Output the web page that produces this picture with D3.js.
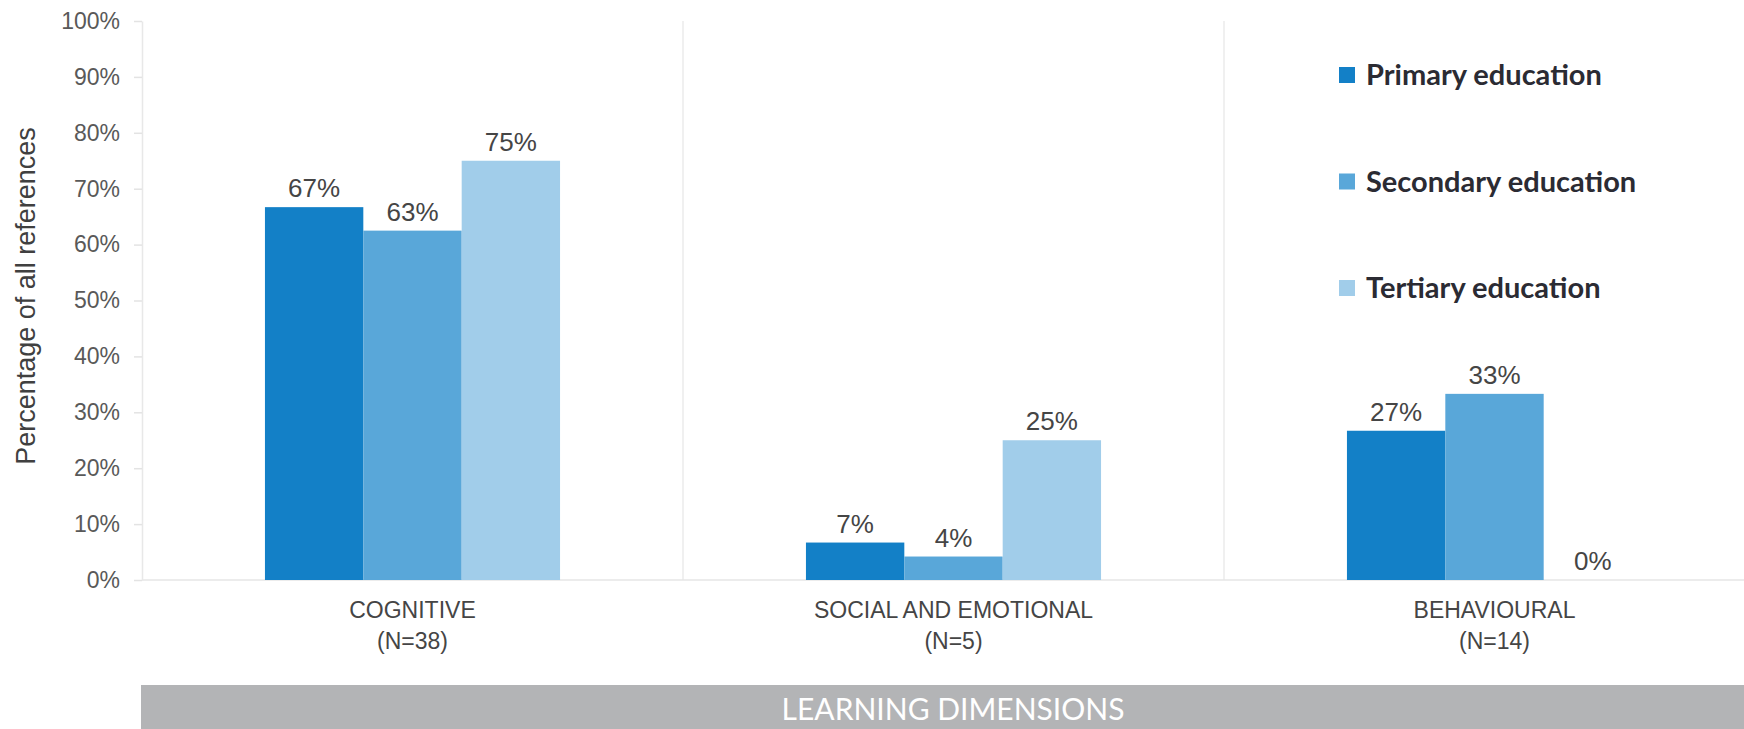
<!DOCTYPE html>
<html>
<head>
<meta charset="utf-8">
<script src="https://cdn.jsdelivr.net/npm/d3@7"></script>
<style>
  body { margin: 0; background: #fff; }
</style>
</head>
<body>
<svg></svg>
<script>
const categories = ["COGNITIVE", "SOCIAL AND EMOTIONAL", "BEHAVIOURAL"];
const categoryN = ["(N=38)", "(N=5)", "(N=14)"];
const seriesNames = ["Primary education", "Secondary education", "Tertiary education"];
const primaryValues = [66.7, 6.7, 26.7];
const secondaryValues = [62.5, 4.2, 33.3];
const tertiaryValues = [75, 25, 0];
const yTicks = [0, 10, 20, 30, 40, 50, 60, 70, 80, 90, 100];
const colors = ["#1380c7", "#59a7d9", "#a1cdea"];

const width = 1744;
const height = 729;

const series = [primaryValues, secondaryValues, tertiaryValues];
const data = categories.map((c, i) => ({
  category: c,
  n: categoryN[i],
  values: seriesNames.map((s, j) => ({ series: s, value: series[j][i] })),
}));

const svg = d3.select("svg").attr("width", width).attr("height", height);

const x0 = d3.scaleBand().domain(categories).range([142, 1765]);
const x1 = d3
  .scaleBand()
  .domain(seriesNames)
  .range([0, x0.bandwidth()])
  .paddingOuter(1.25);
const y = d3.scaleLinear().domain([0, 100]).range([580, 21]);
const color = d3.scaleOrdinal().domain(seriesNames).range(colors);

// separators between categories
svg
  .selectAll(".sep")
  .data(categories.slice(1))
  .enter()
  .append("line")
  .attr("x1", (d) => x0(d))
  .attr("x2", (d) => x0(d))
  .attr("y1", y(100))
  .attr("y2", y(0))
  .attr("stroke", "#ebebeb")
  .attr("stroke-width", 1.5);

// baseline
svg
  .append("line")
  .attr("x1", x0.range()[0])
  .attr("x2", x0.range()[1])
  .attr("y1", y(0))
  .attr("y2", y(0))
  .attr("stroke", "#e6e6e6")
  .attr("stroke-width", 1.5);

// y axis
const yAxis = svg
  .append("g")
  .attr("transform", `translate(${x0.range()[0]},0)`)
  .call(
    d3
      .axisLeft(y)
      .tickValues(yTicks)
      .tickSize(8)
      .tickSizeOuter(0)
      .tickPadding(14)
      .tickFormat((d) => d + "%")
  );
yAxis.select(".domain").attr("stroke", "#e8e8e8").attr("stroke-width", 1.5);
yAxis.selectAll(".tick line").attr("stroke", "#e3e3e3").attr("stroke-width", 1.5);
yAxis
  .selectAll(".tick text")
  .style("font-family", "'Liberation Sans', Arial, sans-serif")
  .style("font-size", "23px")
  .attr("fill", "#595959");

// y axis title
svg
  .append("text")
  .attr("transform", "translate(26,296) rotate(-90)")
  .attr("text-anchor", "middle")
  .attr("dy", "0.35em")
  .style("font-family", "'Liberation Sans', Arial, sans-serif")
  .style("font-size", "27px")
  .attr("fill", "#404040")
  .text("Percentage of all references");

// bars
const groups = svg
  .selectAll(".group")
  .data(data)
  .enter()
  .append("g")
  .attr("class", "group")
  .attr("transform", (d) => `translate(${x0(d.category)},0)`);

groups
  .selectAll("rect")
  .data((d) => d.values)
  .enter()
  .append("rect")
  .attr("x", (d) => x1(d.series))
  .attr("y", (d) => y(d.value))
  .attr("width", x1.bandwidth())
  .attr("height", (d) => y(0) - y(d.value))
  .attr("fill", (d) => color(d.series));

groups
  .selectAll(".val")
  .data((d) => d.values)
  .enter()
  .append("text")
  .attr("class", "val")
  .attr("x", (d) => x1(d.series) + x1.bandwidth() / 2)
  .attr("y", (d) => y(d.value) - 10)
  .attr("text-anchor", "middle")
  .style("font-family", "'Liberation Sans', Arial, sans-serif")
  .style("font-size", "26px")
  .attr("fill", "#454545")
  .text((d) => Math.round(d.value) + "%");

// category labels
const catLabels = svg
  .selectAll(".cat")
  .data(data)
  .enter()
  .append("text")
  .attr("class", "cat")
  .attr("text-anchor", "middle")
  .style("font-family", "'Liberation Sans', Arial, sans-serif")
  .style("font-size", "23px")
  .attr("fill", "#454545");
catLabels
  .append("tspan")
  .attr("x", (d) => x0(d.category) + x0.bandwidth() / 2)
  .attr("y", 618)
  .text((d) => d.category);
catLabels
  .append("tspan")
  .attr("x", (d) => x0(d.category) + x0.bandwidth() / 2)
  .attr("y", 649)
  .text((d) => d.n);

// legend
const legend = svg
  .selectAll(".legend")
  .data(seriesNames)
  .enter()
  .append("g")
  .attr("class", "legend")
  .attr("transform", (d, i) => `translate(1339,${75 + i * 106.5})`);
legend
  .append("rect")
  .attr("x", 0)
  .attr("y", -8)
  .attr("width", 16)
  .attr("height", 16)
  .attr("fill", (d) => color(d));
legend
  .append("text")
  .attr("x", 27)
  .attr("dy", "0.35em")
  .style("font-family", "Lato, 'Open Sans', sans-serif")
  .style("font-weight", "700")
  .style("font-size", "29px")
  .attr("fill", "#2b2b33")
  .text((d) => d);

// bottom banner
svg
  .append("rect")
  .attr("x", 141)
  .attr("y", 685)
  .attr("width", 1765 - 141)
  .attr("height", 50)
  .attr("fill", "#b3b4b6");
svg
  .append("text")
  .attr("x", (141 + 1765) / 2)
  .attr("y", 709)
  .attr("dy", "0.35em")
  .attr("text-anchor", "middle")
  .style("font-family", "Lato, 'Open Sans', sans-serif")
  .style("font-size", "30px")
  .attr("fill", "#ffffff")
  .text("LEARNING DIMENSIONS");
</script>
</body>
</html>
